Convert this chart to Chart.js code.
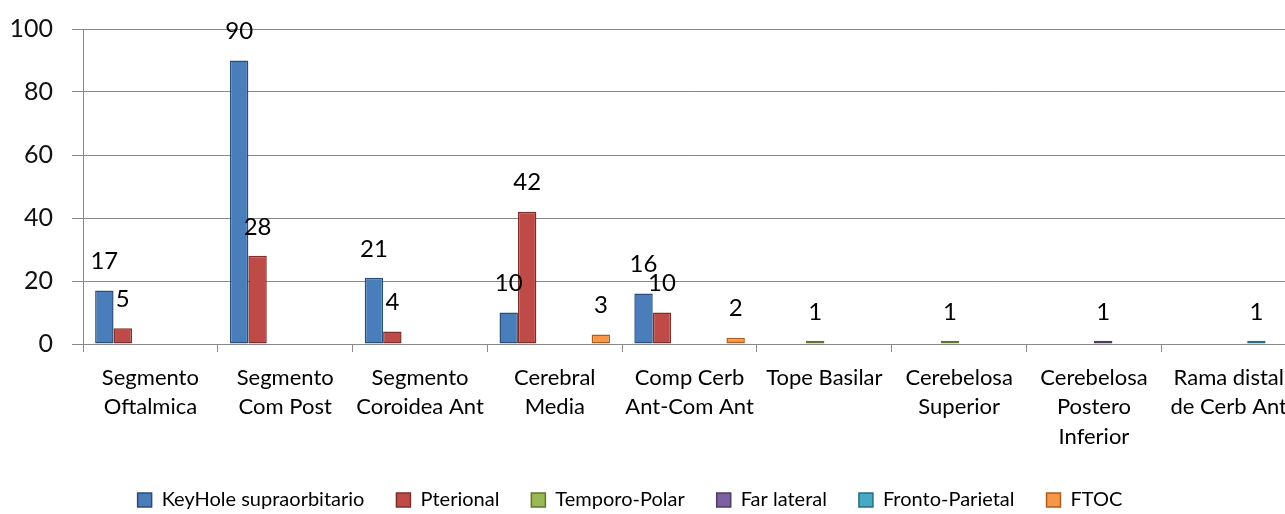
<!DOCTYPE html>
<html>
<head>
<meta charset="utf-8">
<script src="https://cdn.jsdelivr.net/npm/chart.js@4.4.1/dist/chart.umd.min.js"></script>
<style>
    html, body { margin: 0; padding: 0; overflow: hidden; background: #fff; }
    #wrap { position: relative; left: -38px; width: 1336px; height: 514px; }
</style>
</head>
<body>
<div id="wrap"><canvas id="chart"></canvas></div>
<script>
// Categories (x axis)
const categories = [
    ['Segmento', 'Oftalmica'],
    ['Segmento', 'Com Post'],
    ['Segmento', 'Coroidea Ant'],
    ['Cerebral', 'Media'],
    ['Comp Cerb', 'Ant-Com Ant'],
    ['Tope Basilar'],
    ['Cerebelosa', 'Superior'],
    ['Cerebelosa', 'Postero', 'Inferior'],
    ['Rama distal', 'de Cerb Ant']
];

// Series values
const keyhole = [17, 90, 21, 10, 16, 0, 0, 0, 0];
const pterional = [5, 28, 4, 42, 10, 0, 0, 0, 0];
const temporoPolar = [0, 0, 0, 0, 0, 1, 1, 0, 0];
const farLateral = [0, 0, 0, 0, 0, 0, 0, 1, 0];
const frontoParietal = [0, 0, 0, 0, 0, 0, 0, 0, 1];
const ftoc = [0, 0, 0, 3, 2, 0, 0, 0, 0];

const seriesNames = ['KeyHole supraorbitario', 'Pterional', 'Temporo-Polar', 'Far lateral', 'Fronto-Parietal', 'FTOC'];

// Y axis ticks
const yTicks = [0, 20, 40, 60, 80, 100];

const fills = ['#4a7ebb', '#be4b48', '#98b954', '#7d60a0', '#46aac5', '#f79646'];
const borders = ['#2c4d75', '#7a2f2d', '#5f7530', '#4d3b63', '#2b6c7e', '#a85f20'];

const allSeries = [keyhole, pterional, temporoPolar, farLateral, frontoParietal, ftoc];
const gridColor = '#898989';

// Value labels above bars (skip zeros)
const valueLabels = {
    id: 'valueLabels',
    afterDatasetsDraw(chart) {
        const ctx = chart.ctx;
        ctx.save();
        ctx.font = '24px Lato';
        ctx.fillStyle = '#000';
        ctx.textAlign = 'center';
        ctx.textBaseline = 'middle';
        chart.data.datasets.forEach((ds, i) => {
            const meta = chart.getDatasetMeta(i);
            meta.data.forEach((bar, j) => {
                const v = ds.data[j];
                if (!v) return;
                ctx.fillText(String(v), bar.x, bar.y - 29);
            });
        });
        ctx.restore();
    }
};

new Chart(document.getElementById('chart'), {
    type: 'bar',
    data: {
        labels: categories,
        datasets: allSeries.map((vals, i) => ({
            label: seriesNames[i],
            data: vals,
            backgroundColor: fills[i],
            borderColor: borders[i],
            borderWidth: 1.5,
            borderSkipped: false,
            categoryPercentage: 0.82,
            barPercentage: 1
        }))
    },
    options: {
        responsive: true,
        maintainAspectRatio: false,
        animation: false,
        layout: {
            padding: { top: 29, right: 0, bottom: -6, left: 0 }
        },
        plugins: {
            legend: {
                position: 'bottom',
                labels: {
                    font: { family: 'Lato', size: 20 },
                    color: '#000',
                    boxWidth: 14,
                    boxHeight: 14,
                    padding: 32
                }
            },
            tooltip: { enabled: false }
        },
        scales: {
            x: {
                grid: {
                    drawOnChartArea: false,
                    drawTicks: true,
                    tickLength: 8,
                    color: gridColor
                },
                border: { color: gridColor, width: 1 },
                ticks: {
                    font: { family: 'Lato', size: 22, lineHeight: 1.34 },
                    color: '#000',
                    padding: 11,
                    maxRotation: 0,
                    autoSkip: false
                },
                afterFit: (scale) => { scale.height = 114; }
            },
            y: {
                min: 0,
                max: 100,
                afterBuildTicks: (scale) => {
                    scale.ticks = yTicks.map(v => ({ value: v }));
                },
                grid: { color: gridColor, tickLength: 11, lineWidth: 1 },
                border: { color: gridColor, width: 1 },
                ticks: {
                    font: { family: 'Lato', size: 25, lineHeight: 0.8 },
                    color: '#111',
                    padding: 19
                },
                afterFit: (scale) => { scale.width = 121; }
            }
        }
    },
    plugins: [valueLabels]
});
</script>
</body>
</html>
